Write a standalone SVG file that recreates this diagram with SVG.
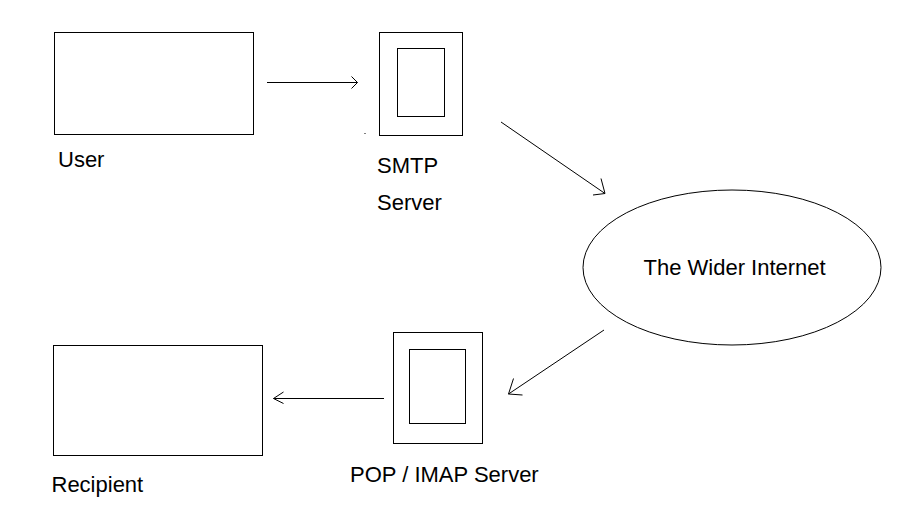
<svg xmlns="http://www.w3.org/2000/svg" width="907" height="518" viewBox="0 0 907 518">
<style>
.box{fill:#fff;stroke:#000;stroke-width:1}
.ln{fill:none;stroke:#000;stroke-width:1}
.lbl{font-family:"Liberation Sans",Arial,sans-serif;font-size:22px;fill:#000}
</style>
<rect width="907" height="518" fill="#fff"/>
<g id="user">
<rect class="box" x="54.5" y="32.5" width="199" height="102"/>
<text class="lbl" x="58" y="166.5">User</text>
</g>
<g id="smtp-server">
<rect class="box" x="379.5" y="32.5" width="83" height="103"/>
<rect class="box" x="397.5" y="48.5" width="47" height="68"/>
<text class="lbl" x="377" y="173">SMTP</text>
<text class="lbl" x="377" y="210">Server</text>
</g>
<rect x="364.5" y="133" width="1" height="1" fill="#000"/>
<g id="internet">
<ellipse class="box" cx="732" cy="267.5" rx="149" ry="77.5"/>
<text class="lbl" x="643.5" y="275">The Wider Internet</text>
</g>
<g id="pop-imap-server">
<rect class="box" x="393.5" y="332.5" width="89" height="111"/>
<rect class="box" x="409.5" y="349.5" width="56" height="74"/>
<text class="lbl" x="350" y="481.5">POP / IMAP Server</text>
</g>
<g id="recipient">
<rect class="box" x="53.5" y="345.5" width="209" height="110"/>
<text class="lbl" x="51.5" y="491.5">Recipient</text>
</g>
<g id="connectors">
<path class="ln" d="M267 82.5H357.5M351.5 76.5L357.5 82.5L351.5 88.5"/>
<path class="ln" d="M501 122L605 193.5M601 178.5L605 193.5L593 195"/>
<path class="ln" d="M604 330L508.5 394M513.5 378.5L508.5 394L522.5 395"/>
<path class="ln" d="M384 398.5H273.5M283.5 392L273.5 398.5L283.5 403.5"/>
</g>
</svg>
